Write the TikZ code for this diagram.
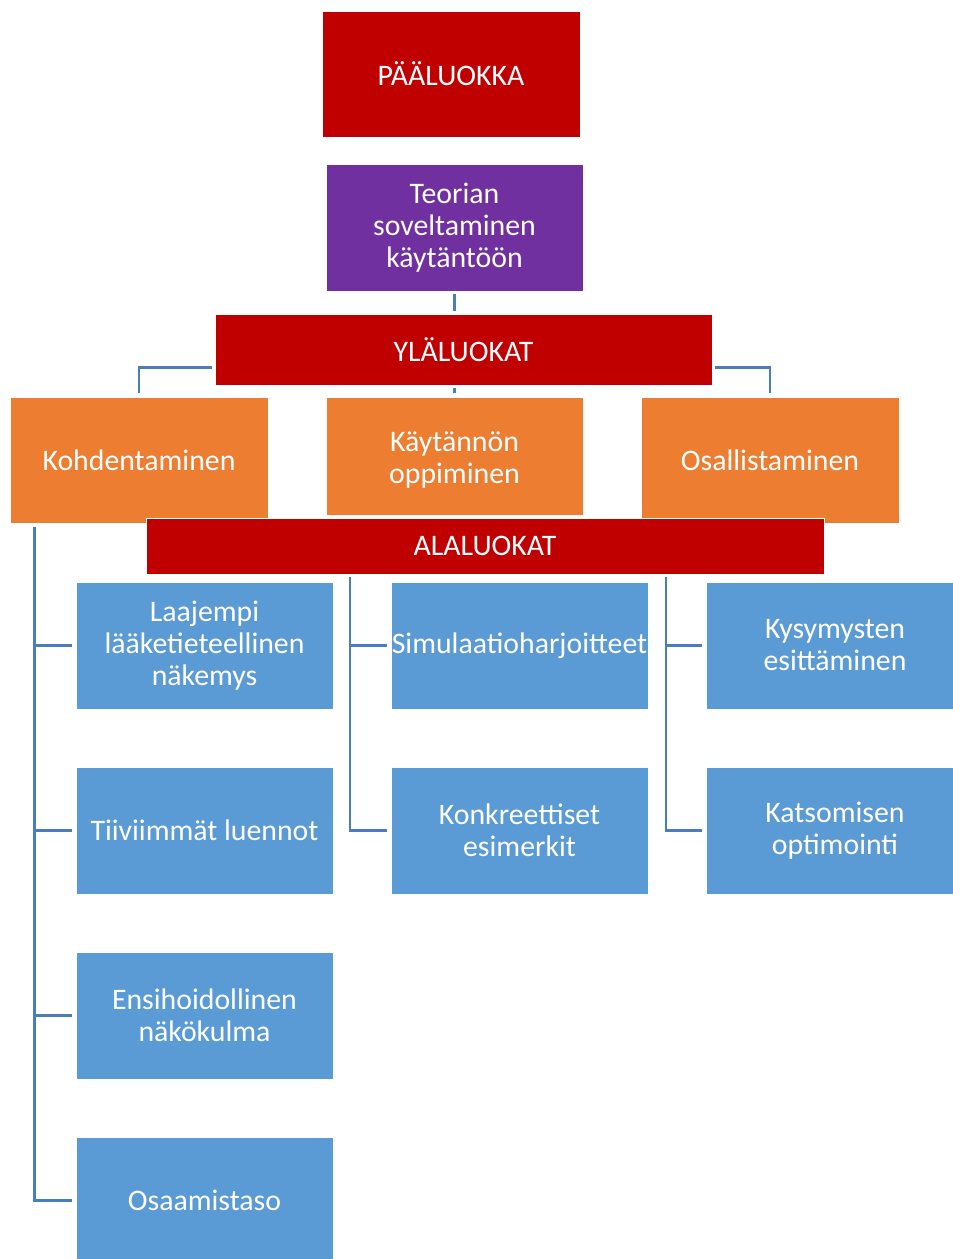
\documentclass[tikz,border=0pt]{standalone}
\usepackage{fontspec}
\setmainfont{Carlito}
\usetikzlibrary{calc}
\definecolor{topred}{HTML}{C00000}
\definecolor{theme}{HTML}{7030A0}
\definecolor{mainorange}{HTML}{ED7D31}
\definecolor{subblue}{HTML}{5B9BD5}
\definecolor{linkblue}{HTML}{4A7EBB}
\begin{document}
\begin{tikzpicture}[x=1pt,y=-1pt,
  boxtext/.style={align=center, text=white, font=\fontsize{29.8}{32}\selectfont},
  box/.style={boxtext, draw=white, line width=0.8pt, inner sep=0pt,
    minimum width=257pt, minimum height=127pt},
  redbox/.style={box, fill=topred},
  purplebox/.style={box, fill=theme},
  orangebox/.style={box, fill=mainorange},
  bluebox/.style={box, fill=subblue},
  conn/.style={draw=linkblue, line width=2.6pt}]
\useasboundingbox (0,0) rectangle (953,1259);
\clip (0,0) rectangle (953,1259);

% top levels
\node[redbox, minimum width=258pt, minimum height=126pt] (pl) at (451,74) {PÄÄLUOKKA};
\node[purplebox] (teo) at (454.5,227.5) {Teorian\\soveltaminen\\käytäntöön};
\node[redbox, minimum width=497pt, minimum height=71pt] (yla) at (463.5,349.5) {YLÄLUOKAT};

% upper categories
\node[orangebox, minimum width=258pt, minimum height=126pt] (koh) at (139,460) {Kohdentaminen};
\node[orangebox, minimum height=118pt,
  label={[boxtext, yshift=-4pt]center:Käytännön\\oppiminen}] (kay) at (454.5,456) {};
\node[orangebox, minimum width=258pt, minimum height=126pt] (osa) at (770,460) {Osallistaminen};

% connectors between top levels
\draw[conn, shorten <=3pt, shorten >=3pt] (teo.south) -- (teo.south |- yla.north);
\draw[conn, shorten >=4pt] ($(yla.west)+(-3,18)$) -| (koh.north);
\draw[conn, shorten >=4pt] ($(yla.east)+(3,18)$) -| (osa.north);
\draw[conn, shorten <=3pt, shorten >=4pt] (kay.north |- yla.south) -- (kay.north);

\node[redbox, minimum width=678pt, minimum height=56pt] (ala) at (485,546) {ALALUOKAT};

% sub categories
\node[bluebox] (b11) at (204.5,645.5) {Laajempi\\lääketieteellinen\\näkemys};
\node[bluebox] (b12) at (204.5,830.5) {Tiiviimmät luennot};
\node[bluebox] (b13) at (204.5,1015.5) {Ensihoidollinen\\näkökulma};
\node[bluebox] (b14) at (204.5,1200.5) {Osaamistaso};
\node[bluebox] (b21) at (519.5,645.5) {Simulaatioharjoitteet};
\node[bluebox] (b22) at (519.5,830.5) {Konkreettiset\\esimerkit};
\node[bluebox] (b31) at (835,645.5) {Kysymysten\\esittäminen};
\node[bluebox] (b32) at (835,830.5) {Katsomisen\\optimointi};

% branch trunks
\coordinate (t1) at ($(koh.south west)+(25,4)$);
\coordinate (t2) at (350,577);
\coordinate (t3) at (666,577);

\draw[conn, shorten >=4pt] (t1) |- (b14.west);
\foreach \b in {b11,b12,b13}
  \draw[conn, shorten >=4pt] (t1 |- \b.west) -- (\b.west);
\draw[conn, shorten >=4pt] (t2) |- (b22.west);
\draw[conn, shorten >=4pt] (t2 |- b21.west) -- (b21.west);
\draw[conn, shorten >=4pt] (t3) |- (b32.west);
\draw[conn, shorten >=4pt] (t3 |- b31.west) -- (b31.west);
\end{tikzpicture}
\end{document}
